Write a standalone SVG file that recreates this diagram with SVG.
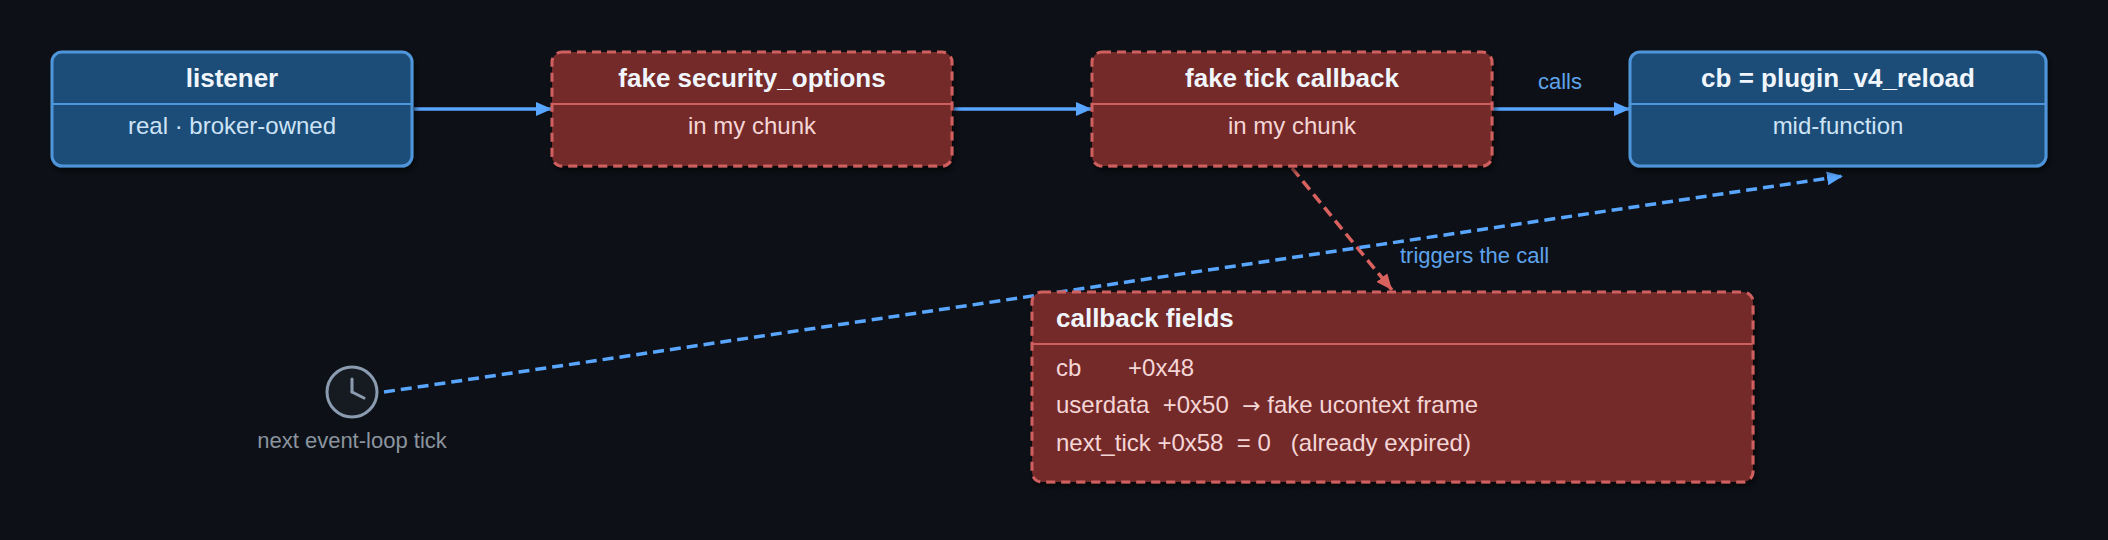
<svg xmlns="http://www.w3.org/2000/svg" width="2108" height="540" viewBox="0 0 2108 540">
<defs>
<style>
.box-blue{fill:#1f4e79;stroke:#4f95da;stroke-width:3}
.box-red{fill:#752a2c;stroke:#d0605f;stroke-width:3;stroke-dasharray:9 6}
.div-blue{stroke:#4f95da;stroke-width:2}
.div-red{stroke:#cf5f5e;stroke-width:2}
.title{font-family:"Liberation Sans",Arial,sans-serif;font-weight:bold;font-size:26px;fill:#f0f6fc;text-anchor:middle}
.sub-blue{font-family:"Liberation Sans",Arial,sans-serif;font-size:24px;fill:#cde3f6;text-anchor:middle}
.sub-red{font-family:"Liberation Sans",Arial,sans-serif;font-size:24px;fill:#f4d6d6;text-anchor:middle}
.row{font-family:"Liberation Sans",Arial,sans-serif;font-size:24px;fill:#f4d6d6}
.arrowglyph{font-family:"DejaVu Sans",sans-serif;font-size:22px}
.lbl{font-family:"Liberation Sans",Arial,sans-serif;font-size:22px;fill:#5fa3ec}
.muted{font-family:"Liberation Sans",Arial,sans-serif;font-size:22px;fill:#8b949e;text-anchor:middle}
.edge-blue{fill:none;stroke:#58a6ff;stroke-width:3.5}
.edge-red{fill:none;stroke:#d9625f;stroke-width:3.5}
</style>
<marker id="ahBlue" viewBox="0 0 16 14" refX="16" refY="7" markerWidth="16" markerHeight="14" markerUnits="userSpaceOnUse" orient="auto">
<path d="M0,0 L16,7 L0,14 Z" fill="#58a6ff"/>
</marker>
<marker id="ahRed" viewBox="0 0 16 14" refX="16" refY="7" markerWidth="16" markerHeight="14" markerUnits="userSpaceOnUse" orient="auto">
<path d="M0,0 L16,7 L0,14 Z" fill="#d9625f"/>
</marker>
<filter id="shadow" x="-10%" y="-10%" width="120%" height="130%">
<feDropShadow dx="2" dy="4" stdDeviation="3" flood-color="#000000" flood-opacity="0.6"/>
</filter>
</defs>
<rect width="2108" height="540" fill="#0d1117"/>

<g id="connectors">
<line class="edge-blue" x1="414" y1="109" x2="552" y2="109" marker-end="url(#ahBlue)"/>
<line class="edge-blue" x1="954" y1="109" x2="1092" y2="109" marker-end="url(#ahBlue)"/>
<line class="edge-blue" x1="1493" y1="109" x2="1630" y2="109" marker-end="url(#ahBlue)"/>
<text class="lbl" x="1560" y="89" text-anchor="middle">calls</text>
<line class="edge-red" x1="1292" y1="168" x2="1392" y2="290" stroke-dasharray="11 6" marker-end="url(#ahRed)"/>
<line class="edge-blue" x1="384" y1="392" x2="1843" y2="176" stroke-dasharray="11 6" marker-end="url(#ahBlue)"/>
<text class="lbl" x="1400" y="263">triggers the call</text>
</g>

<g id="listener">
<rect class="box-blue" x="52" y="52" width="360" height="114" rx="10" filter="url(#shadow)"/>
<line class="div-blue" x1="53" y1="104" x2="411" y2="104"/>
<text class="title" x="232" y="87">listener</text>
<text class="sub-blue" x="232" y="134">real · broker-owned</text>
</g>

<g id="fake-security-options">
<rect class="box-red" x="552" y="52" width="400" height="114" rx="10" filter="url(#shadow)"/>
<line class="div-red" x1="553" y1="104" x2="951" y2="104"/>
<text class="title" x="752" y="87">fake security_options</text>
<text class="sub-red" x="752" y="134">in my chunk</text>
</g>

<g id="fake-tick-callback">
<rect class="box-red" x="1092" y="52" width="400" height="114" rx="10" filter="url(#shadow)"/>
<line class="div-red" x1="1093" y1="104" x2="1491" y2="104"/>
<text class="title" x="1292" y="87">fake tick callback</text>
<text class="sub-red" x="1292" y="134">in my chunk</text>
</g>

<g id="plugin-v4-reload">
<rect class="box-blue" x="1630" y="52" width="416" height="114" rx="10" filter="url(#shadow)"/>
<line class="div-blue" x1="1631" y1="104" x2="2045" y2="104"/>
<text class="title" x="1838" y="87">cb = plugin_v4_reload</text>
<text class="sub-blue" x="1838" y="134">mid-function</text>
</g>

<g id="callback-fields">
<rect class="box-red" x="1032" y="292" width="721" height="190" rx="10" filter="url(#shadow)"/>
<line class="div-red" x1="1033" y1="344" x2="1752" y2="344"/>
<text class="title" x="1056" y="327" style="text-anchor:start">callback fields</text>
<text class="row" x="1056" y="376" xml:space="preserve">cb       +0x48</text>
<text class="row" x="1056" y="413" xml:space="preserve">userdata  +0x50  <tspan class="arrowglyph">→</tspan> fake ucontext frame</text>
<text class="row" x="1056" y="451" xml:space="preserve">next_tick +0x58  = 0   (already expired)</text>
</g>

<g id="event-loop-tick">
<circle cx="352" cy="392" r="25" fill="#161b22" stroke="#8b9bb0" stroke-width="3"/>
<line x1="352" y1="392" x2="352" y2="379" stroke="#8b9bb0" stroke-width="3" stroke-linecap="round"/>
<line x1="352" y1="392" x2="364" y2="398" stroke="#8b9bb0" stroke-width="3" stroke-linecap="round"/>
<text class="muted" x="352" y="448">next event-loop tick</text>
</g>
</svg>
